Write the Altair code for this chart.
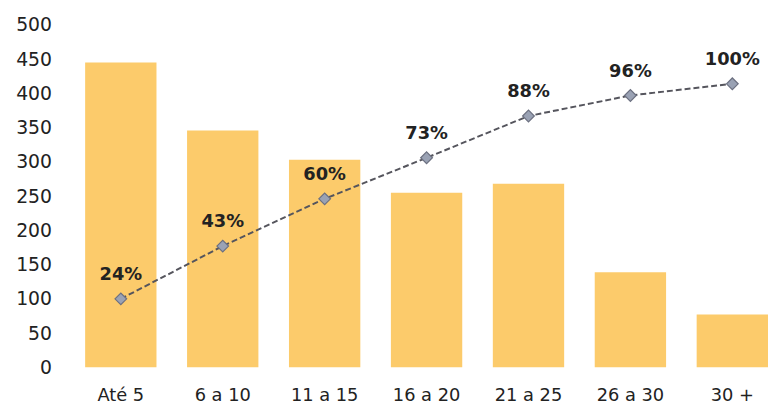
import altair as alt
import pandas as pd

categories = ["Até 5", "6 a 10", "11 a 15", "16 a 20", "21 a 25", "26 a 30", "30 +"]
bar_values = [445, 346, 303, 255, 268, 139, 77]
line_values = [100, 177, 246, 306, 367, 397, 414]
pct_labels = ["24%", "43%", "60%", "73%", "88%", "96%", "100%"]
y_ticks = [0, 50, 100, 150, 200, 250, 300, 350, 400, 450, 500]

df = pd.DataFrame({
    "cat": categories,
    "bar": bar_values,
    "line": line_values,
    "pct": pct_labels,
})

FONT = "DejaVu Sans"

x_axis = alt.Axis(
    title=None, labelAngle=0, domain=False, ticks=False, tickSize=0,
    labelPadding=20, labelFont=FONT, labelFontSize=18, labelColor="#222222",
    labelBaseline="top", labelOverlap=False,
)
x_scale = alt.Scale(paddingInner=0.3, paddingOuter=0.126, align=1)
x_enc = alt.X("cat:N", sort=categories, scale=x_scale, axis=x_axis)

y_scale = alt.Scale(domain=[0, 500], nice=False)
y_axis = alt.Axis(
    title=None, values=y_ticks, tickCount=11, domain=False, ticks=False, tickSize=0,
    grid=False, labelPadding=8, labelFont=FONT, labelFontSize=19,
    labelColor="#222222", labelOverlap=False,
)

bars = alt.Chart(df).mark_bar(color="#FCCB6B").encode(
    x=x_enc,
    y=alt.Y("bar:Q", scale=y_scale, axis=y_axis),
)

line = alt.Chart(df).mark_line(
    color="#55555d", strokeDash=[6, 3], strokeWidth=2
).encode(
    x=x_enc,
    y=alt.Y("line:Q", scale=y_scale, axis=y_axis),
)

points = alt.Chart(df).mark_point(
    shape="diamond", filled=True, size=140, fill="#9AA2B4", stroke="#6c7080",
    strokeWidth=1.2, opacity=1,
).encode(
    x=x_enc,
    y=alt.Y("line:Q", scale=y_scale, axis=y_axis),
)

labels = alt.Chart(df).mark_text(
    font=FONT, fontSize=18, fontWeight="bold", color="#222222",
    baseline="alphabetic", dy=-19,
).encode(
    x=x_enc,
    y=alt.Y("line:Q", scale=y_scale, axis=y_axis),
    text="pct:N",
)

chart = alt.layer(bars, line, points, labels).properties(
    width=716,
    height=346,
    autosize=alt.AutoSizeParams(type="none"),
    padding={"left": 52, "top": 15, "right": 0, "bottom": 38},
).configure(
    background="white",
    view=alt.ViewConfig(stroke=None),
).configure_axis(labelOverlap=False)

chart.save("out.html", embed_options={"renderer": "svg", "actions": False})
